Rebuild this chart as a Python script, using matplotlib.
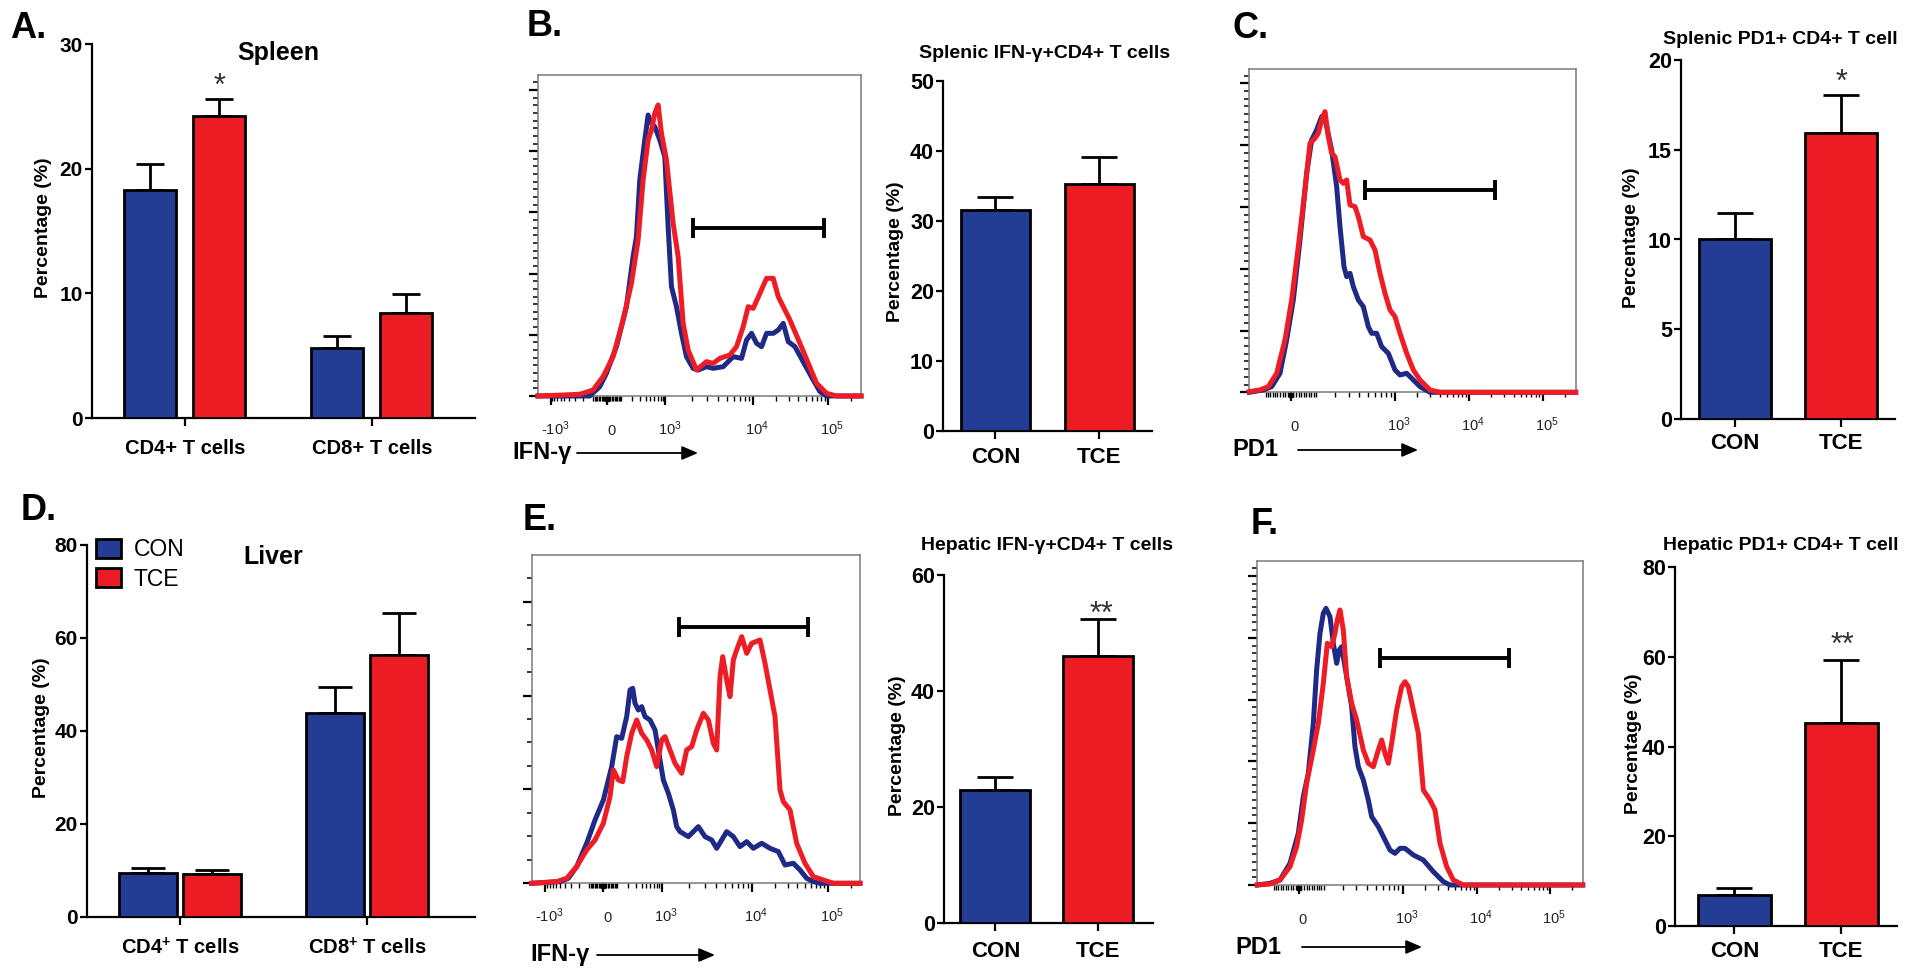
import numpy as np
import matplotlib
matplotlib.use('Agg')
import matplotlib.pyplot as plt
from matplotlib.patches import Patch, FancyArrowPatch
from matplotlib.transforms import ScaledTranslation, blended_transform_factory

plt.rcParams['font.family'] = ['Liberation Sans', 'DejaVu Sans']
plt.rcParams['mathtext.fontset'] = 'custom'
plt.rcParams['mathtext.rm'] = 'Liberation Sans'
plt.rcParams['mathtext.bf'] = 'Liberation Sans:bold'
plt.rcParams['mathtext.it'] = 'Liberation Sans:italic'
plt.rcParams['mathtext.default'] = 'regular'

# ---------------- data ----------------
groups_A = ["CD4+ T cells", "CD8+ T cells"]
A_con = [18.3, 5.6]
A_con_err = [2.1, 1.0]
A_tce = [24.2, 8.4]
A_tce_err = [1.4, 1.55]

groups_D = ["CD4$^{+}$ T cells", "CD8$^{+}$ T cells"]
D_con = [9.5, 43.9]
D_con_err = [1.05, 5.6]
D_tce = [9.2, 56.3]
D_tce_err = [0.8, 9.1]

treat = ["CON", "TCE"]
B_vals = [31.5, 35.3]
B_errs = [1.9, 3.8]
C_vals = [10.0, 15.95]
C_errs = [1.46, 2.1]
E_vals = [22.97, 46.1]
E_errs = [2.3, 6.3]
F_vals = [6.9, 45.2]
F_errs = [1.5, 14.1]

# flow histograms (channel, count)
b_con_ch = [0,155,185,205,235,265,285,295,305,320,330,340,350,365,380,390,400,415,430,445,465,480,505,525,555,585,610,625,640,655,670,685,705,720,735,750,770,800,825,845,865,968]
b_con_cnt = [0,0,28,68,148,268,418,478,648,768,843,818,808,768,718,508,328,268,188,118,83,78,88,83,88,118,113,168,188,158,148,188,188,198,218,163,148,93,48,13,0,0]
b_tce_ch = [0,125,165,195,225,255,280,300,315,330,340,350,360,370,385,405,420,435,450,475,505,525,545,575,595,615,630,645,665,685,705,720,735,755,785,810,835,865,895,968]
b_tce_cnt = [0,5,18,58,118,228,338,468,648,768,798,848,873,788,708,518,418,218,138,78,103,98,113,123,148,208,268,263,308,353,353,298,268,228,158,98,38,8,0,0]

c_con_ch = [0,42,67,92,112,132,152,172,187,202,217,224,232,247,262,272,284,292,302,312,327,342,357,367,382,397,417,437,452,472,492,512,542,979]
c_con_cnt = [0,7,17,57,157,277,457,657,757,787,827,832,797,727,617,497,377,347,357,317,277,257,197,177,177,137,117,67,52,57,37,17,0,0]
c_tce_ch = [0,32,57,82,107,127,147,167,182,197,207,217,227,237,247,257,272,282,292,302,317,327,342,362,377,392,407,422,437,452,472,492,512,542,572,979]
c_tce_cnt = [2,7,17,57,157,277,437,607,747,762,777,817,842,767,717,707,637,627,637,562,557,527,467,457,427,357,297,247,227,177,117,67,37,7,0,0]

e_con_ch = [0,85,110,135,165,190,215,240,255,270,285,295,303,310,320,330,340,355,370,385,395,410,425,435,445,470,500,520,540,555,570,585,605,625,645,665,690,715,740,760,785,805,825,845,865,985]
e_con_cnt = [0,5,15,50,120,190,250,350,440,435,500,580,585,540,520,530,500,490,460,370,310,270,220,170,155,140,170,140,130,105,130,155,140,110,125,105,120,105,95,55,60,40,15,5,0,0]
e_tce_ch = [0,75,105,135,165,190,215,235,245,260,273,285,300,315,330,345,360,375,390,400,415,430,450,465,480,495,515,530,545,555,565,573,585,595,605,615,630,645,660,685,700,715,730,745,755,775,795,820,845,875,905,985]
e_tce_cnt = [0,5,15,50,100,130,180,260,340,310,305,380,450,490,450,430,400,350,430,440,400,360,330,400,410,460,510,490,420,400,620,680,610,560,670,700,740,690,720,730,660,580,500,280,245,220,120,60,20,10,0,0]

f_con_ch = [0,38,68,98,123,138,153,168,178,188,198,206,218,228,238,246,253,268,283,293,303,318,333,343,363,378,398,413,428,443,468,498,528,558,578,976]
f_con_cnt = [0,5,15,65,155,265,335,485,645,755,815,830,805,725,665,705,715,625,535,415,355,315,255,205,175,145,105,95,110,110,90,75,40,10,0,0]
f_tce_ch = [0,38,68,98,118,133,148,168,183,198,210,223,233,240,248,258,268,283,298,318,333,348,363,373,383,393,403,418,433,443,453,468,483,498,518,533,548,568,588,618,976]
f_tce_cnt = [0,3,15,55,115,195,305,405,485,605,725,715,755,795,825,765,625,545,495,405,365,355,405,435,395,365,425,525,595,610,595,525,455,285,255,225,125,55,15,0,0]

# gates (start channel, end channel, height)
b_gate = (465, 858, 503)
c_gate = (347, 737, 607)
e_gate = (442, 830, 768)
f_gate = (368, 756, 680)

labels_neg = ['-$10^{3}$', '0', '$10^{3}$', '$10^{4}$', '$10^{5}$']
labels_pos = ['0', '$10^{3}$', '$10^{4}$', '$10^{5}$']

# ---------------- style ----------------
BLUE = '#233d95'
RED = '#ec1c24'
HBLUE = '#1e2a86'
HRED = '#ee1c25'

W, H = 1920, 974
fig = plt.figure(figsize=(W / 100, H / 100), dpi=100)
fig.patch.set_facecolor('white')


def fx(x):
    return x / W


def fy(y):
    return 1 - y / H


def add_ax(x0, y0, x1, y1):
    return fig.add_axes([x0 / W, 1 - y1 / H, (x1 - x0) / W, (y1 - y0) / H])


def style_bar_ax(ax, ymax, ystep, xlim, xticks, xlabels, xpad, tick_fs=15.5, xl_fs=16):
    ax.set_xlim(*xlim)
    ax.set_ylim(0, ymax)
    for s in ['top', 'right']:
        ax.spines[s].set_visible(False)
    for s in ['left', 'bottom']:
        ax.spines[s].set_linewidth(1.6)
    yt = np.arange(0, ymax + 0.001, ystep)
    ax.set_yticks(yt)
    ax.set_yticklabels([f'{v:g}' for v in yt], fontweight='bold', fontsize=tick_fs)
    ax.tick_params(axis='y', direction='out', length=5, width=1.6, pad=1.5)
    ax.set_xticks(xticks)
    ax.set_xticklabels(xlabels, fontweight='bold', fontsize=xl_fs)
    ax.tick_params(axis='x', direction='out', length=6, width=1.6, pad=xpad)
    ax.patch.set_alpha(0)


def draw_bars(ax, x, vals, errs, colors, width, capsize):
    ax.bar(x, vals, width, color=colors, edgecolor='black', linewidth=2, zorder=3)
    ax.errorbar(x, vals, yerr=[np.zeros(len(vals)), errs], fmt='none', ecolor='black',
                elinewidth=2, capsize=capsize, capthick=2, zorder=2)


def grouped_panel(rect, groups, con, con_err, tce, tce_err, ymax, ystep, off, width, xlim, xpad, capsize):
    ax = add_ax(*rect)
    x = np.arange(len(groups))
    draw_bars(ax, x - off, con, con_err, BLUE, width, capsize)
    draw_bars(ax, x + off, tce, tce_err, RED, width, capsize)
    style_bar_ax(ax, ymax, ystep, xlim, x, groups, xpad, tick_fs=15, xl_fs=14.5)
    return ax


def single_panel(rect, vals, errs, ymax, ystep, width, xlim, xpad, capsize=13):
    ax = add_ax(*rect)
    x = np.arange(len(treat))
    draw_bars(ax, x, vals, errs, [BLUE, RED], width, capsize)
    style_bar_ax(ax, ymax, ystep, xlim, x, treat, xpad)
    return ax


def hist_panel(rect, xmax, ymax, ystep, nminor, scale_vals, scale_pos, labels,
               con_x, con_y, tce_x, tce_y, gate):
    ax = add_ax(*rect)
    ax.set_xlim(0, xmax)
    ax.set_ylim(0, ymax)
    for s in ax.spines.values():
        s.set_color('#7a7a7a')
        s.set_linewidth(1.1)
    ax.plot(con_x, con_y, color=HBLUE, lw=3.6, solid_joinstyle='round', zorder=3, clip_on=False)
    ax.plot(tce_x, tce_y, color=HRED, lw=3.6, solid_joinstyle='round', zorder=4, clip_on=False)
    g0, g1, gh = gate
    ax.errorbar([(g0 + g1) / 2], [gh], xerr=[(g1 - g0) / 2], fmt='none', ecolor='black',
                elinewidth=2.8, capsize=7, capthick=2.8, zorder=5)
    # y ticks
    ymaj = np.arange(0, ymax, ystep)
    ymin = np.arange(0, ymax, ystep / nminor)
    ax.set_yticks(ymaj)
    ax.set_yticks(ymin, minor=True)
    ax.set_yticklabels([])
    ax.tick_params(axis='y', which='major', direction='out', length=6.5, width=1.6, color='black')
    ax.tick_params(axis='y', which='minor', direction='out', length=3.5, width=1.1, color='black')
    # x ticks: logicle-like display scale
    sv = dict(zip(scale_vals, scale_pos))
    p0, p3, p4, p5 = sv[0], sv[1e3], sv[1e4], sv[1e5]
    span = p3 - p0
    lin = lambda v: p0 + np.sign(v) * span * np.arcsinh(abs(v) / 150) / np.arcsinh(1000 / 150)
    minors = []
    for k in range(1, 10):
        minors += [lin(10 * k), lin(-10 * k), lin(100 * k)]
    if -1e3 in sv:
        minors += [lin(-100 * k) for k in range(1, 10)]
    else:
        minors += [lin(-100)]
    for k in range(2, 10):
        minors += [p3 + (p4 - p3) * np.log10(k), p4 + (p5 - p4) * np.log10(k),
                   p5 + (p5 - p4) * np.log10(k)]
    minors = [m for m in minors if 0 < m < xmax]
    ax.set_xticks(scale_pos)
    ax.set_xticks(minors, minor=True)
    ax.set_xticklabels([])
    ax.tick_params(axis='x', which='major', direction='out', length=6.5, width=1.6, color='black')
    ax.tick_params(axis='x', which='minor', direction='out', length=3.5, width=1.0, color='black')
    # thick zero mark
    ax.plot([p0], [0], marker='s', ms=3.5, color='black', clip_on=False,
            transform=ax.transData + ScaledTranslation(0, -3 / 100, fig.dpi_scale_trans))
    # labels
    tr = blended_transform_factory(ax.transData, ax.transAxes) + \
        ScaledTranslation(4 / 100, -39 / 100, fig.dpi_scale_trans)
    lab_pos = scale_pos if len(labels) == len(scale_pos) else scale_pos[-len(labels):]
    for p, lab in zip(lab_pos, labels):
        ax.text(p, 0, lab, transform=tr, ha='center', va='baseline', fontsize=10.5, color='#222222')
    return ax


def arrow_label(text, x_text, y, x0, x1):
    fig.text(fx(x_text), fy(y), text, ha='left', va='center', fontsize=17, fontweight='bold')
    fig.add_artist(FancyArrowPatch((fx(x0), fy(y)), (fx(x1), fy(y)), transform=fig.transFigure,
                                   arrowstyle='-|>,head_length=0.7,head_width=0.3', mutation_scale=14,
                                   lw=1.3, color='black', shrinkA=0, shrinkB=0))


def star(x, y, s):
    fig.text(fx(x), fy(y + 17), s, ha='center', va='baseline', fontsize=22, color='#333333')


def ylab(x, y):
    fig.text(fx(x), fy(y), 'Percentage (%)', rotation=90, ha='center', va='center',
             fontsize=14, fontweight='bold')


def letter(x, y, s):
    fig.text(fx(x), fy(y), s, ha='left', va='center', fontsize=26, fontweight='bold')


# ---------------- panel A ----------------
grouped_panel((92, 44, 475, 418), groups_A, A_con, A_con_err, A_tce, A_tce_err,
              30, 10, 0.1845, 0.278, (-0.497, 1.551), 9, 10)
ylab(44, 228)
fig.text(fx(278), fy(53), 'Spleen', ha='center', va='center', fontsize=18, fontweight='bold')
star(219, 78, '*')
letter(10, 28, 'A.')

# ---------------- panel B ----------------
hist_panel((538, 75, 861, 396), 968, 963, 183.6, 8, [-1e3, 0, 1e3, 1e4, 1e5],
           [40, 208, 382, 645, 870], labels_neg, b_con_ch, b_con_cnt, b_tce_ch, b_tce_cnt, b_gate)
arrow_label('IFN-γ', 512, 453, 577, 698)
single_panel((943, 80.7, 1152, 430.7), B_vals, B_errs, 50, 10, 0.665, (-0.506, 1.51), 6)
ylab(895, 252)
fig.text(fx(1045), fy(53), 'Splenic IFN-γ+CD4+ T cells', ha='center', va='center',
         fontsize=14, fontweight='bold')
letter(527, 27, 'B.')

# ---------------- panel C ----------------
hist_panel((1249.3, 69.3, 1575.7, 392.3), 979, 969, 185.4, 8, [0, 1e3, 1e4, 1e5],
           [124, 437, 660, 880], labels_pos, c_con_ch, c_con_cnt, c_tce_ch, c_tce_cnt, c_gate)
arrow_label('PD1', 1232, 450, 1298, 1418)
single_panel((1681, 60, 1895, 419), C_vals, C_errs, 20, 5, 0.68, (-0.51, 1.51), 4)
ylab(1632, 238)
fig.text(fx(1663), fy(40), 'Splenic PD1+ CD4+ T cell', ha='left', va='center',
         fontsize=14, fontweight='bold')
star(1842, 74, '*')
letter(1233, 28, 'C.')

# ---------------- panel D ----------------
axD = grouped_panel((87, 545, 475, 916.7), groups_D, D_con, D_con_err, D_tce, D_tce_err,
                    80, 20, 0.171, 0.31, (-0.497, 1.578), 9, 12)
ylab(42, 728)
fig.text(fx(273), fy(557), 'Liver', ha='center', va='center', fontsize=18, fontweight='bold')
letter(21, 510, 'D.')
handles = [Patch(facecolor=BLUE, edgecolor='black', linewidth=2),
           Patch(facecolor=RED, edgecolor='black', linewidth=2)]
fig.legend(handles, treat, loc='upper left', bbox_to_anchor=(fx(96), fy(538)),
           frameon=False, fontsize=16.5, handlelength=1.1, handleheight=0.9,
           handletextpad=0.55, labelspacing=0.3, borderpad=0, borderaxespad=0)

# ---------------- panel E ----------------
hist_panel((531.7, 555, 860, 883.3), 985, 985, 281.7, 4, [-1e3, 0, 1e3, 1e4, 1e5],
           [40, 215, 390, 660, 888], labels_neg, e_con_ch, e_con_cnt, e_tce_ch, e_tce_cnt, e_gate)
arrow_label('IFN-γ', 530, 955, 597, 715)
single_panel((944, 575, 1153, 923.3), E_vals, E_errs, 60, 20, 0.68, (-0.5, 1.53), 6.5)
ylab(897, 746)
fig.text(fx(1047), fy(546), 'Hepatic IFN-γ+CD4+ T cells', ha='center', va='center',
         fontsize=14, fontweight='bold')
star(1101, 606, '**')
letter(523, 520, 'E.')

# ---------------- panel F ----------------
hist_panel((1257.3, 561, 1582.7, 885), 976, 972, 185.4, 8, [0, 1e3, 1e4, 1e5],
           [124, 436, 660, 878], labels_pos, f_con_ch, f_con_cnt, f_tce_ch, f_tce_cnt, f_gate)
arrow_label('PD1', 1235, 947, 1302, 1422)
single_panel((1675, 567.3, 1897, 926), F_vals, F_errs, 80, 20, 0.68, (-0.556, 1.52), 4.5)
ylab(1633, 744)
fig.text(fx(1663), fy(546), 'Hepatic PD1+ CD4+ T cell', ha='left', va='center',
         fontsize=14, fontweight='bold')
star(1842, 637, '**')
letter(1251, 525, 'F.')

fig.savefig('out.png', dpi=100, facecolor='white')
